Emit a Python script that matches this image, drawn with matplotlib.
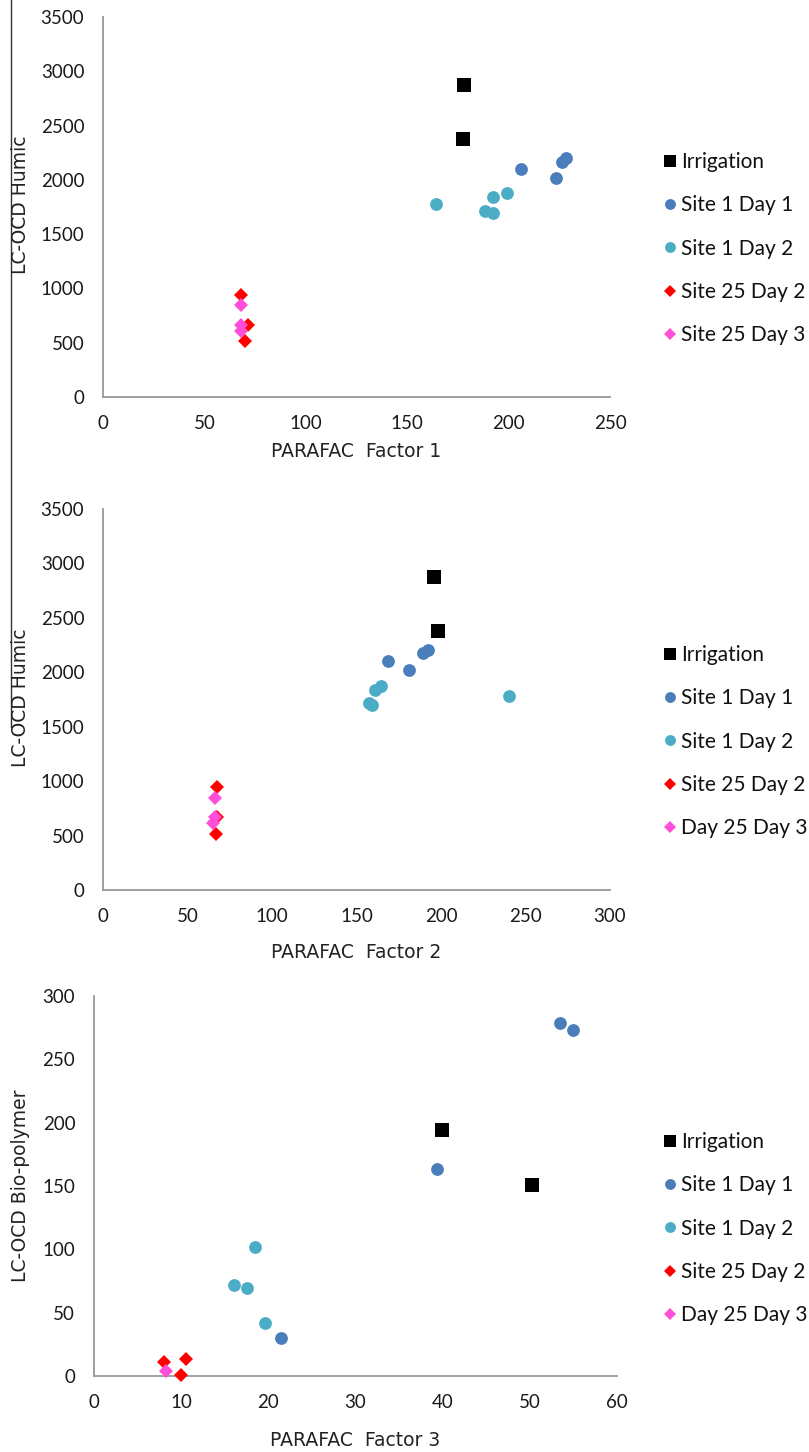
import matplotlib
matplotlib.use("Agg")
import matplotlib.pyplot as plt
from matplotlib.lines import Line2D

# ---- data -------------------------------------------------------------
series_names_a = ["Irrigation", "Site 1 Day 1", "Site 1 Day 2", "Site 25 Day 2", "Site 25 Day 3"]
series_names_b = ["Irrigation", "Site 1 Day 1", "Site 1 Day 2", "Site 25 Day 2", "Day 25 Day 3"]

# Panel 1: PARAFAC Factor 1 vs LC-OCD Humic
f1_irrigation_x = [178, 177.5]
f1_irrigation_y = [2870, 2380]
f1_s1d1_x = [206, 223.5, 226.5, 228.5]
f1_s1d1_y = [2100, 2020, 2165, 2200]
f1_s1d2_x = [164, 188.5, 192.5, 192.5, 199]
f1_s1d2_y = [1775, 1712, 1695, 1840, 1875]
f1_s25d2_x = [68, 71.5, 70]
f1_s25d2_y = [942, 667, 515]
f1_s25d3_x = [68, 68, 68]
f1_s25d3_y = [845, 665, 612]

# Panel 2: PARAFAC Factor 2 vs LC-OCD Humic
f2_irrigation_x = [196, 198]
f2_irrigation_y = [2875, 2381]
f2_s1d1_x = [168.5, 181, 189.5, 192.5]
f2_s1d1_y = [2105, 2023, 2175, 2205]
f2_s1d2_x = [157.5, 159, 161, 164.5, 240]
f2_s1d2_y = [1716, 1695, 1840, 1876, 1778]
f2_s25d2_x = [67.5, 67.5, 66.7]
f2_s25d2_y = [944, 668, 515]
f2_s25d3_x = [66.5, 66.5, 65.2]
f2_s25d3_y = [843, 668, 619]

# Panel 3: PARAFAC Factor 3 vs LC-OCD Bio-polymer
f3_irrigation_x = [39.9, 50.2]
f3_irrigation_y = [194.5, 151]
f3_s1d1_x = [53.5, 54.9, 39.4, 21.4]
f3_s1d1_y = [279, 273, 163.5, 30]
f3_s1d2_x = [18.5, 16.1, 17.5, 19.6]
f3_s1d2_y = [102, 72, 69.5, 42]
f3_s25d2_x = [8.0, 10.5, 10.0]
f3_s25d2_y = [10.8, 13.7, 0.8]
f3_s25d3_x = [8.3]
f3_s25d3_y = [3.9]

x_labels = ["PARAFAC  Factor 1", "PARAFAC  Factor 2", "PARAFAC  Factor 3"]
y_labels = ["LC-OCD Humic", "LC-OCD Humic", "LC-OCD Bio-polymer"]
x_limits = [(0, 250), (0, 300), (0, 60)]
x_steps = [50, 50, 10]
y_limits = [(0, 3500), (0, 3500), (0, 300)]
y_steps = [500, 500, 50]

# ---- styling ------------------------------------------------------------
W, H = 809, 1452
DPI = 100
colors = ["#000000", "#4a7ebb", "#4bacc6", "#ff0000", "#ff4fd8"]
markers = ["s", "o", "o", "D", "D"]
sizes = [10.5, 9.2, 9.2, 7, 7]
axis_grey = "#999999"
tick_font = "Lato"
label_font = "DejaVu Sans"

fig = plt.figure(figsize=(W / DPI, H / DPI), dpi=DPI)


def px_axes(left, right, top, bottom):
    return fig.add_axes([left / W, 1 - bottom / H, (right - left) / W, (bottom - top) / H])


panels = [
    dict(box=(103, 610, 17, 397),
         data=[(f1_irrigation_x, f1_irrigation_y), (f1_s1d1_x, f1_s1d1_y), (f1_s1d2_x, f1_s1d2_y),
               (f1_s25d2_x, f1_s25d2_y), (f1_s25d3_x, f1_s25d3_y)],
         names=series_names_a, legend_y=162, ylabel_y=205, xlabel_y=452),
    dict(box=(103, 610, 509, 890),
         data=[(f2_irrigation_x, f2_irrigation_y), (f2_s1d1_x, f2_s1d1_y), (f2_s1d2_x, f2_s1d2_y),
               (f2_s25d2_x, f2_s25d2_y), (f2_s25d3_x, f2_s25d3_y)],
         names=series_names_b, legend_y=655, ylabel_y=698, xlabel_y=953),
    dict(box=(94, 617, 996, 1376),
         data=[(f3_irrigation_x, f3_irrigation_y), (f3_s1d1_x, f3_s1d1_y), (f3_s1d2_x, f3_s1d2_y),
               (f3_s25d2_x, f3_s25d2_y), (f3_s25d3_x, f3_s25d3_y)],
         names=series_names_b, legend_y=1142, ylabel_y=1186, xlabel_y=1440),
]

for i, p in enumerate(panels):
    left, right, top, bottom = p["box"]
    ax = px_axes(left, right, top, bottom)
    for (xs, ys), c, m, s, name in zip(p["data"], colors, markers, sizes, p["names"]):
        ax.plot(xs, ys, linestyle="none", marker=m, color=c, markersize=s,
                markeredgewidth=0, label=name, clip_on=False, zorder=3)
    x0, x1 = x_limits[i]
    y0, y1 = y_limits[i]
    ax.set_xlim(x0, x1)
    ax.set_ylim(y0, y1)
    ax.set_xticks(range(x0, x1 + 1, x_steps[i]))
    ax.set_yticks(range(y0, y1 + 1, y_steps[i]))
    for side in ("top", "right"):
        ax.spines[side].set_visible(False)
    for side in ("left", "bottom"):
        ax.spines[side].set_color(axis_grey)
        ax.spines[side].set_linewidth(1.3)
    ax.tick_params(length=0, labelsize=13.5, labelcolor="#1a1a1a")
    ax.tick_params(axis="x", pad=13)
    ax.tick_params(axis="y", pad=13.5)
    for lab in ax.get_xticklabels() + ax.get_yticklabels():
        lab.set_fontfamily(tick_font)

    # axis titles, placed in figure pixels
    fig.text(((left + right) / 2) / W, 1 - p["xlabel_y"] / H, x_labels[i],
             ha="center", va="center", fontsize=13.5, family=label_font, color="#222222")
    fig.text(21 / W, 1 - p["ylabel_y"] / H, y_labels[i], rotation=90,
             ha="center", va="center", fontsize=13.5, family=label_font, color="#222222")

    # legend to the right of the plot area
    handles = [Line2D([], [], linestyle="none", marker=m, color=c, markersize=s * 0.85,
                      markeredgewidth=0) for c, m, s in zip(colors, markers, sizes)]
    leg = fig.legend(handles, p["names"], loc="upper left",
                     bbox_to_anchor=(664 / W, 1 - (p["legend_y"] - 10) / H),
                     frameon=False, handlelength=0.55, handletextpad=0.25,
                     labelspacing=1.12, borderaxespad=0, borderpad=0,
                     prop=dict(family=tick_font, size=15))
    for t in leg.get_texts():
        t.set_color("#111111")

# thin border line along the left edge of the upper panels
fig.add_artist(Line2D([11 / W, 11 / W], [1, 1 - 727 / H], color="#333333", linewidth=1.0))

fig.savefig("out.png", dpi=DPI)
